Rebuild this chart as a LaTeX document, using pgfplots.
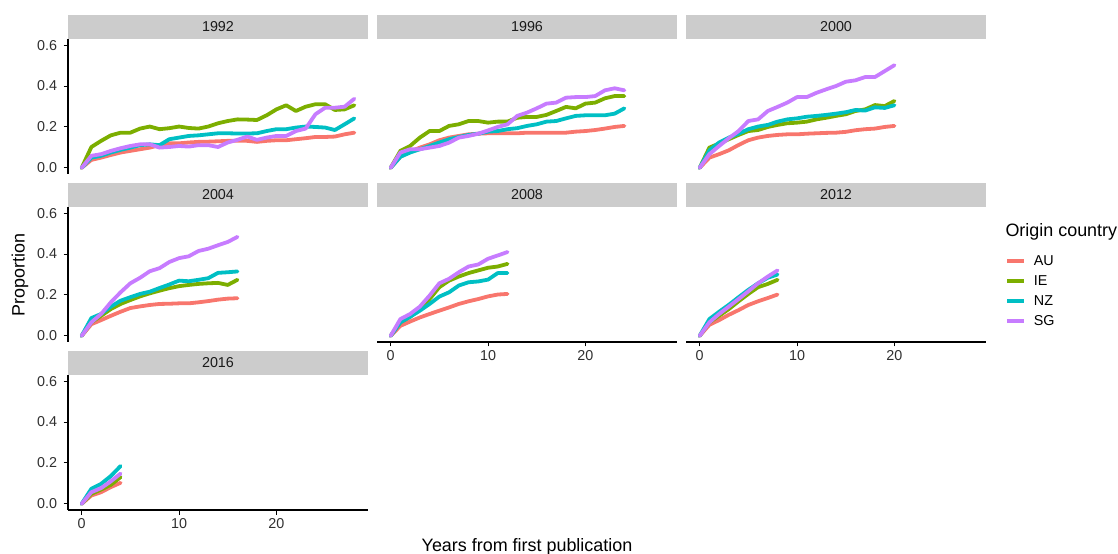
\documentclass[border=0pt]{standalone}
\usepackage{fontspec}
\setmainfont{Liberation Sans}
\usepackage{pgfplots}
\usepackage{pgfplotstable}
\pgfplotsset{compat=1.18}
\definecolor{cAU}{HTML}{F8766D}
\definecolor{cIE}{HTML}{7CAE00}
\definecolor{cNZ}{HTML}{00BFC4}
\definecolor{cSG}{HTML}{C77CFF}
\definecolor{stripc}{HTML}{CCCCCC}
\definecolor{tickc}{HTML}{303030}
\definecolor{stript}{HTML}{1A1A1A}

\pgfplotstableread{
x AU IE NZ SG
0 0 0 0 0
1 0.039 0.102 0.050 0.059
2 0.050 0.132 0.059 0.067
3 0.063 0.159 0.075 0.083
4 0.075 0.172 0.088 0.096
5 0.083 0.172 0.099 0.107
6 0.091 0.192 0.111 0.115
7 0.099 0.202 0.115 0.115
8 0.111 0.189 0.111 0.099
9 0.120 0.194 0.140 0.102
10 0.120 0.202 0.148 0.107
11 0.124 0.195 0.156 0.104
12 0.127 0.192 0.159 0.111
13 0.128 0.202 0.164 0.111
14 0.130 0.218 0.169 0.102
15 0.132 0.229 0.169 0.124
16 0.133 0.237 0.168 0.137
17 0.132 0.236 0.168 0.153
18 0.127 0.234 0.169 0.137
19 0.132 0.257 0.180 0.148
20 0.135 0.286 0.189 0.156
21 0.135 0.306 0.189 0.156
22 0.140 0.278 0.197 0.180
23 0.145 0.299 0.202 0.192
24 0.151 0.311 0.200 0.262
25 0.151 0.311 0.197 0.294
26 0.153 0.283 0.185 0.294
27 0.164 0.286 0.213 0.299
28 0.172 0.306 0.242 0.338
}\tA
\pgfplotstableread{
x AU IE NZ SG
0 0 0 0 0
1 0.054 0.083 0.054 0.075
2 0.080 0.107 0.075 0.091
3 0.099 0.148 0.091 0.091
4 0.115 0.180 0.107 0.099
5 0.135 0.180 0.124 0.107
6 0.148 0.205 0.140 0.123
7 0.156 0.213 0.151 0.148
8 0.164 0.229 0.161 0.156
9 0.167 0.229 0.167 0.167
10 0.169 0.221 0.177 0.183
11 0.169 0.226 0.180 0.200
12 0.169 0.226 0.189 0.213
13 0.169 0.245 0.194 0.254
14 0.172 0.249 0.205 0.270
15 0.172 0.249 0.213 0.291
16 0.172 0.259 0.226 0.314
17 0.172 0.278 0.229 0.319
18 0.172 0.298 0.242 0.343
19 0.177 0.291 0.254 0.346
20 0.180 0.314 0.257 0.346
21 0.185 0.319 0.257 0.351
22 0.192 0.340 0.257 0.379
23 0.200 0.351 0.265 0.389
24 0.205 0.351 0.291 0.379
}\tB
\pgfplotstableread{
x AU IE NZ SG
0 0 0 0 0
1 0.050 0.099 0.086 0.067
2 0.067 0.119 0.124 0.107
3 0.086 0.140 0.148 0.145
4 0.112 0.161 0.167 0.180
5 0.135 0.180 0.189 0.229
6 0.148 0.185 0.202 0.237
7 0.156 0.200 0.210 0.278
8 0.161 0.210 0.226 0.298
9 0.164 0.218 0.237 0.319
10 0.164 0.221 0.242 0.346
11 0.167 0.226 0.250 0.346
12 0.169 0.237 0.254 0.367
13 0.171 0.245 0.259 0.384
14 0.172 0.254 0.265 0.400
15 0.176 0.262 0.272 0.421
16 0.184 0.278 0.283 0.428
17 0.189 0.286 0.280 0.444
18 0.192 0.307 0.296 0.444
19 0.200 0.302 0.293 0.473
20 0.205 0.327 0.306 0.502
}\tC
\pgfplotstableread{
x AU IE NZ SG
0 0 0 0 0
1 0.057 0.066 0.087 0.066
2 0.077 0.098 0.107 0.107
3 0.098 0.131 0.143 0.164
4 0.118 0.156 0.172 0.213
5 0.136 0.175 0.189 0.257
6 0.144 0.193 0.205 0.284
7 0.151 0.208 0.216 0.316
8 0.156 0.221 0.234 0.331
9 0.157 0.233 0.251 0.361
10 0.159 0.243 0.270 0.380
11 0.159 0.249 0.267 0.389
12 0.164 0.254 0.274 0.415
13 0.170 0.257 0.282 0.426
14 0.177 0.259 0.308 0.443
15 0.182 0.249 0.311 0.459
16 0.184 0.274 0.315 0.484
}\tD
\pgfplotstableread{
x AU IE NZ SG
0 0 0 0 0
1 0.049 0.066 0.066 0.082
2 0.070 0.093 0.093 0.107
3 0.090 0.131 0.123 0.143
4 0.107 0.180 0.156 0.197
5 0.123 0.238 0.192 0.257
6 0.139 0.270 0.213 0.279
7 0.156 0.290 0.246 0.311
8 0.169 0.307 0.262 0.339
9 0.180 0.320 0.266 0.349
10 0.193 0.333 0.275 0.377
11 0.202 0.339 0.307 0.393
12 0.205 0.352 0.307 0.410
}\tE
\pgfplotstableread{
x AU IE NZ SG
0 0 0 0 0
1 0.054 0.066 0.082 0.066
2 0.077 0.098 0.118 0.107
3 0.103 0.131 0.152 0.143
4 0.126 0.169 0.189 0.180
5 0.151 0.205 0.225 0.218
6 0.169 0.238 0.257 0.257
7 0.185 0.254 0.284 0.290
8 0.202 0.274 0.300 0.320
}\tF
\pgfplotstableread{
x AU IE NZ SG
0 0 0 0 0
1 0.041 0.049 0.074 0.057
2 0.057 0.070 0.098 0.077
3 0.082 0.093 0.136 0.110
4 0.103 0.131 0.185 0.148
}\tG

\pgfplotsset{
  panel/.style={
    scale only axis, width=300bp, height=135bp,
    xmin=-1.4, xmax=29.4, ymin=-0.03, ymax=0.63,
    clip mode=individual,
    xtick={0,10,20}, ytick={0,0.2,0.4,0.6},
    tick align=outside, major tick length=4.5bp,
    tick style={black, line width=1bp},
    axis line style={-, black, line width=1.1bp},
    ticklabel style={font=\fontsize{14.4}{16}\selectfont, text=tickc},
    yticklabel style={xshift=-3bp, /pgf/number format/.cd, fixed, fixed zerofill, precision=1},
    /pgf/number format/assume math mode=true,
    every axis plot/.append style={line width=3.8bp, line join=round, line cap=round},
    anchor=south west,
  }
}
\newcommand{\strip}[1]{%
  \fill[stripc] (rel axis cs:0,1) rectangle ([yshift=24bp]rel axis cs:1,1);
  \node[font=\fontsize{14.4}{16}\selectfont, text=stript] at ([yshift=12bp]rel axis cs:0.5,1) {#1};}
\newcommand{\four}[1]{%
  \addplot[cAU] table[x=x,y=AU] {#1};
  \addplot[cIE] table[x=x,y=IE] {#1};
  \addplot[cNZ] table[x=x,y=NZ] {#1};
  \addplot[cSG] table[x=x,y=SG] {#1};}

\begin{document}
\begin{tikzpicture}
\useasboundingbox (0,0) rectangle (1118bp,554bp);
% row 1
\begin{axis}[panel, at={(68bp,380bp)}, hide x axis, axis y line*=left]
\strip{1992}\four{\tA}
\end{axis}
\begin{axis}[panel, at={(377bp,380bp)}, hide axis]
\strip{1996}\four{\tB}
\end{axis}
\begin{axis}[panel, at={(686bp,380bp)}, hide axis]
\strip{2000}\four{\tC}
\end{axis}
% row 2
\begin{axis}[panel, at={(68bp,212bp)}, hide x axis, axis y line*=left]
\strip{2004}\four{\tD}
\end{axis}
\begin{axis}[panel, at={(377bp,212bp)}, hide y axis, axis x line*=bottom]
\strip{2008}\four{\tE}
\end{axis}
\begin{axis}[panel, at={(686bp,212bp)}, hide y axis, axis x line*=bottom,
  legend style={at={(axis description cs:1.063,0.653)}, anchor=north west, draw=none, fill=none,
    inner sep=0pt, row sep=6bp, font=\fontsize{14.4}{16}\selectfont,
    nodes={inner sep=1bp, text height=10bp, text depth=2bp}, cells={anchor=west},
    /tikz/every odd column/.append style={column sep=7bp}},
  legend image code/.code={\draw[#1, line width=3.8bp, line cap=butt] (0bp,0bp) -- (17bp,0bp);}]
\strip{2012}\four{\tF}
\legend{AU,IE,NZ,SG}
\end{axis}
% row 3
\begin{axis}[panel, at={(68bp,44bp)}, axis x line*=bottom, axis y line*=left]
\strip{2016}\four{\tG}
\end{axis}
\node[rotate=90, font=\fontsize{18}{20}\selectfont] at (20bp,279bp) {Proportion};
\node[font=\fontsize{18}{20}\selectfont] at (527bp,7bp) {Years from first publication};
\node[anchor=west, font=\fontsize{18}{20}\selectfont] at (1002bp,322bp) {Origin country};
\end{tikzpicture}
\end{document}
